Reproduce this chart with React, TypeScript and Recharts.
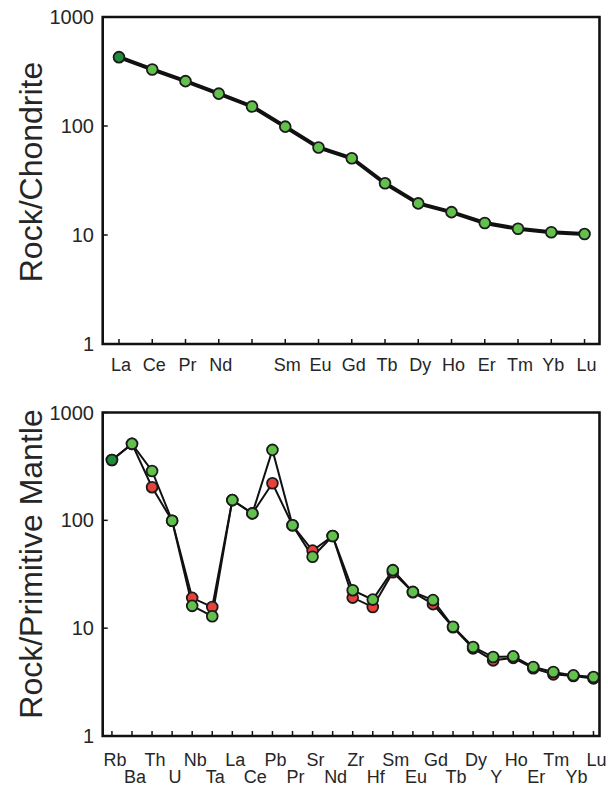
import { LineChart, Line, XAxis, YAxis, ReferenceArea } from "recharts";

// Chondrite-normalised REE pattern (upper) and primitive-mantle spider diagram (lower).

const REE_LABELS = ["La", "Ce", "Pr", "Nd", "", "Sm", "Eu", "Gd", "Tb", "Dy", "Ho", "Er", "Tm", "Yb", "Lu"];
const REE_VALUES = [428, 330, 258, 198, 151, 98.6, 63.5, 50.6, 29.8, 19.5, 16.2, 12.9, 11.4, 10.6, 10.2];

const SPIDER_LABELS = [
  "Rb", "Ba", "Th", "U", "Nb", "Ta", "La", "Ce", "Pb", "Pr", "Sr", "Nd", "Zr",
  "Hf", "Sm", "Eu", "Gd", "Tb", "Dy", "Y", "Ho", "Er", "Tm", "Yb", "Lu",
];
const SPIDER_RED = [
  363, 512, 203, 99, 19.1, 15.7, 154, 116, 221, 90, 52.4, 71.5, 19.2,
  15.7, 33.0, 21.5, 16.7, 10.2, 6.5, 5.03, 5.3, 4.25, 3.73, 3.6, 3.42,
];
const SPIDER_GREEN = [
  363, 512, 287, 99, 16.1, 12.9, 154, 116, 450, 90, 45.9, 71.5, 22.5,
  18.4, 34.5, 21.7, 18.2, 10.3, 6.69, 5.4, 5.48, 4.36, 3.92, 3.65, 3.52,
];
const Y_TICKS = [1, 10, 100, 1000];

const FONT = "'Liberation Sans', Arial, sans-serif";
const INK = "#262626";
const GREEN = "#62c14d";
const DARK_GREEN = "#1f8b3b";
const RED = "#e8403a";

const reeRows = REE_VALUES.map((v, i) => ({ i, v }));
const spiderRows = SPIDER_LABELS.map((_, i) => ({ i, red: SPIDER_RED[i], green: SPIDER_GREEN[i] }));

const REE_DOMAIN: [number, number] = [-0.49, 14.45];
const SPIDER_DOMAIN: [number, number] = [-0.46, 24.3];

const makeDot = (fill: string, firstFill?: string) => (p: any) => {
  const { cx, cy, index } = p;
  if (cx == null || cy == null) return <g key={index} />;
  return (
    <circle
      key={index}
      cx={cx}
      cy={cy}
      r={5.4}
      fill={index === 0 && firstFill ? firstFill : fill}
      stroke="#1b1b1b"
      strokeWidth={1.8}
    />
  );
};

const ReeTick = (props: any) => {
  const { x, y, payload } = props;
  return (
    <text x={x + 2} y={y} dy="0.71em" textAnchor="middle" fontSize={18} fontFamily={FONT} fill={INK}>
      {REE_LABELS[payload.value]}
    </text>
  );
};

const SpiderTick = (props: any) => {
  const { x, y, payload } = props;
  const i = payload.value;
  return (
    <text x={x + 3} y={y + (i % 2) * 16.7} dy="0.71em" textAnchor="middle" fontSize={18} fontFamily={FONT} fill={INK}>
      {SPIDER_LABELS[i]}
    </text>
  );
};

const AxisTitle = ({ text, cy }: { text: string; cy: number }) => (
  <text
    x={30}
    y={cy}
    dy="0.36em"
    transform={`rotate(-90, 30, ${cy})`}
    textAnchor="middle"
    fontSize={32}
    fontFamily={FONT}
    fill={INK}
  >
    {text}
  </text>
);

const yAxisProps = {
  type: "number" as const,
  scale: "log" as const,
  domain: [1, 1000],
  ticks: Y_TICKS,
  interval: 0 as const,
  width: 102.7,
  axisLine: false,
  tickSize: -5,
  tickMargin: 13.7,
  tickLine: { stroke: "#111", strokeWidth: 1.5 },
  tick: { fontSize: 20, fill: INK, fontFamily: FONT },
  allowDataOverflow: true,
};

function ReeChart() {
  return (
    <LineChart width={608} height={390} data={reeRows} margin={{ top: 17, right: 8.5, bottom: 16, left: 0 }}>
      <XAxis
        dataKey="i"
        type="number"
        domain={REE_DOMAIN}
        ticks={REE_LABELS.map((_, i) => i)}
        interval={0}
        height={30}
        axisLine={false}
        tickSize={-5}
        tickMargin={19.4}
        tickLine={{ stroke: "#111", strokeWidth: 1.5 }}
        tick={<ReeTick />}
        allowDataOverflow
      />
      <YAxis {...yAxisProps} label={<AxisTitle text="Rock/Chondrite" cy={172} />} />
      <ReferenceArea
        x1={REE_DOMAIN[0]}
        x2={REE_DOMAIN[1]}
        y1={1}
        y2={1000}
        fill="none"
        fillOpacity={0}
        stroke="#111"
        strokeWidth={2.6}
      />
      <Line
        dataKey="v"
        stroke="#111"
        strokeWidth={4}
        dot={makeDot(GREEN, DARK_GREEN)}
        isAnimationActive={false}
      />
    </LineChart>
  );
}

function SpiderChart() {
  return (
    <LineChart width={608} height={396} data={spiderRows} margin={{ top: 22.5, right: 8.5, bottom: 20, left: 0 }}>
      <XAxis
        dataKey="i"
        type="number"
        domain={SPIDER_DOMAIN}
        ticks={SPIDER_LABELS.map((_, i) => i)}
        interval={0}
        height={30}
        axisLine={false}
        tickSize={-5}
        tickMargin={22.3}
        tickLine={{ stroke: "#111", strokeWidth: 1.5 }}
        tick={<SpiderTick />}
        allowDataOverflow
      />
      <YAxis {...yAxisProps} label={<AxisTitle text="Rock/Primitive Mantle" cy={174} />} />
      <ReferenceArea
        x1={SPIDER_DOMAIN[0]}
        x2={SPIDER_DOMAIN[1]}
        y1={1}
        y2={1000}
        fill="none"
        fillOpacity={0}
        stroke="#111"
        strokeWidth={2.6}
      />
      <Line dataKey="red" stroke="#111" strokeWidth={2} dot={makeDot(RED)} isAnimationActive={false} />
      <Line
        dataKey="green"
        stroke="#111"
        strokeWidth={2}
        dot={makeDot(GREEN, DARK_GREEN)}
        isAnimationActive={false}
      />
    </LineChart>
  );
}

export default function App() {
  return (
    <div style={{ position: "absolute", left: 0, top: 0, width: 608, height: 786, background: "#fff" }}>
      <ReeChart />
      <SpiderChart />
    </div>
  );
}
